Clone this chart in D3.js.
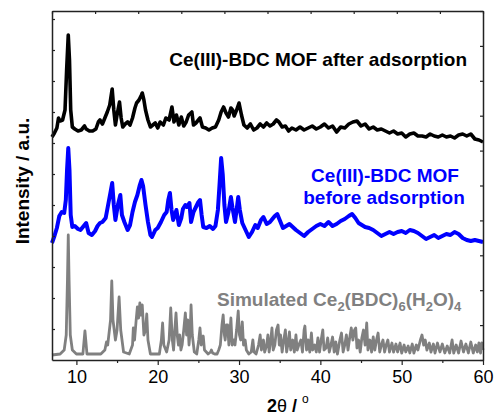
<!DOCTYPE html>
<html><head><meta charset="utf-8">
<script src="https://cdn.jsdelivr.net/npm/d3@7/dist/d3.min.js"></script>
<style>body{margin:0;background:#fff}svg{display:block}text{font-family:"Liberation Sans",Arial,sans-serif}</style>
</head><body><svg id="c" width="495" height="416"></svg>
<script>
// 2theta (degrees) and stacked intensity (a.u.) for each pattern
const afterX = [7.0,7.3,7.6,7.8,8.0,8.3,8.6,8.8,9.0,9.15,9.3,9.5,9.8,10.2,10.6,11.0,11.2,11.6,12.0,12.4,12.7,12.9,13.2,13.5,13.8,14.1,14.4,14.6,14.8,15.0,15.3,15.5,15.7,16.0,16.3,16.6,16.9,17.2,17.4,17.7,18.0,18.1,18.3,18.5,18.8,19.1,19.4,19.7,20.0,20.3,20.7,21.0,21.4,21.75,22.0,22.3,22.6,22.9,23.2,23.5,23.8,24.2,24.4,24.7,25.0,25.2,25.5,25.9,26.3,26.7,27.1,27.5,27.8,28.1,28.4,28.7,29.0,29.2,29.4,29.7,30.0,30.3,30.6,31.0,31.4,31.8,32.2,32.6,33.0,33.4,33.8,34.2,34.6,34.9,35.3,35.7,36.1,36.5,37.0,37.5,38.0,38.5,39.0,39.5,40.0,40.5,41.0,41.5,42.0,42.5,43.0,43.5,44.0,44.5,45.0,45.5,46.0,46.5,47.0,47.5,48.0,48.5,49.0,49.5,50.0,50.5,51.0,51.5,52.0,52.5,53.0,53.5,54.0,54.5,55.0,55.5,56.0,56.5,57.0,57.5,58.0,58.5,59.0,59.5,60.0];
const afterY = [223,227,232,242,239,240,250,290,325,300,250,233,231,229,230,234,231,229,229,231,238,240,236,242,248,255,271,250,235,245,258,242,233,236,238,235,242,252,257,260,265,267,260,250,240,233,235,237,232,238,235,242,240,253,238,245,235,243,234,238,245,248,235,237,240,242,233,232,230,232,233,240,248,253,247,243,252,250,244,250,257,245,235,232,236,230,232,236,233,237,234,236,240,238,233,234,229,232,230,233,230,232,234,231,233,236,232,234,228,233,232,236,238,239,234,236,231,233,230,231,229,227,229,226,227,223,226,227,224,224,223,226,224,223,225,223,224,222,225,226,224,226,221,220,218];

const beforeX = [7.0,7.3,7.6,7.9,8.2,8.5,8.7,8.85,9.0,9.15,9.3,9.5,9.8,10.2,10.5,10.9,11.2,11.5,11.9,12.3,12.6,12.9,13.2,13.6,13.9,14.2,14.4,14.6,14.8,15.1,15.4,15.6,15.9,16.3,16.6,16.9,17.2,17.5,17.8,18.0,18.2,18.5,18.8,19.1,19.3,19.7,20.0,20.4,20.8,21.1,21.3,21.5,21.7,21.9,22.1,22.3,22.6,22.9,23.1,23.4,23.6,23.9,24.1,24.4,24.7,25.0,25.2,25.4,25.6,26.0,26.4,26.8,27.1,27.4,27.6,27.8,28.0,28.2,28.4,28.7,29.0,29.2,29.5,29.7,29.9,30.1,30.4,30.8,31.2,31.6,32.0,32.3,32.7,33.0,33.4,33.8,34.1,34.4,34.7,35.0,35.4,35.8,36.2,36.6,37.0,37.5,38.0,38.5,39.0,39.5,40.0,40.5,41.0,41.5,42.0,42.5,43.0,43.5,43.9,44.3,44.7,45.1,45.5,46.0,46.5,47.0,47.5,48.0,48.5,49.0,49.5,50.0,50.5,51.0,51.5,52.0,52.5,53.0,53.5,54.0,54.5,55.0,55.5,56.0,56.5,57.0,57.5,58.0,58.5,59.0,59.5,60.0];
const beforeY = [117,124,132,144,148,147,160,190,212,190,145,133,134,131,130,134,137,127,125,129,134,137,138,142,155,168,177,155,140,155,165,145,138,130,135,148,158,165,175,180,174,155,138,125,123,130,132,138,145,148,160,167,150,140,145,150,135,142,151,155,153,157,138,148,153,158,160,145,133,132,134,131,134,150,175,202,185,155,138,148,163,152,138,150,163,150,137,130,123,128,135,132,140,143,136,138,141,144,146,140,132,134,136,133,130,127,124,128,131,134,136,134,138,134,136,139,141,144,146,142,137,135,133,132,130,127,124,126,128,126,128,129,127,130,129,127,124,121,123,125,122,124,126,125,128,126,122,120,119,120,119,118];

const simX = [7.0,8.0,8.5,8.75,8.9,9.0,9.1,9.25,9.5,10.0,10.8,10.95,11.05,11.15,11.3,13.0,13.5,13.7,13.85,14.2,14.35,14.5,14.8,15.0,15.25,15.45,15.8,16.5,16.9,17.0,17.15,17.35,17.5,17.65,17.8,17.95,18.1,18.3,18.5,18.65,18.8,19.1,20.2,20.45,20.6,20.75,21.1,21.4,21.6,21.8,21.95,22.1,22.25,22.4,22.55,22.7,22.85,23.0,23.2,23.4,23.55,23.7,23.85,24.0,24.1,24.25,24.5,24.8,25.05,25.2,25.35,25.5,25.6,25.75,26.2,26.5,26.6,26.75,27.0,27.3,27.5,27.7,27.9,28.05,28.2,28.3,28.45,28.6,28.75,28.9,29.0,29.15,29.35,29.5,29.7,29.9,30.05,30.2,30.4,30.55,30.75,30.9,31.2,31.5,31.7,31.85,32.1,32.4,32.6,32.75,33.0,33.15,33.4,33.55,33.7,33.9,34.05,34.2,34.4,34.6,34.8,34.95,35.1,35.3,35.5,35.7,35.85,36.0,36.2,36.35,36.6,36.8,37.0,37.15,37.35,37.6,37.8,38.0,38.1,38.3,38.5,38.7,38.9,39.05,39.3,39.5,39.7,39.9,40.1,40.3,40.45,40.7,40.9,41.1,41.3,41.5,41.7,41.9,42.1,42.4,42.6,42.8,43.0,43.2,43.4,43.6,43.8,44.0,44.2,44.35,44.5,44.7,44.9,45.1,45.3,45.5,45.7,45.85,46.1,46.3,46.5,46.7,46.9,47.1,47.3,47.5,47.7,47.9,48.1,48.3,48.5,48.8,49.0,49.3,49.5,49.8,50.0,50.3,50.5,50.8,51.0,51.3,51.5,51.8,52.0,52.3,52.5,52.7,52.9,53.1,53.4,53.6,53.9,54.1,54.4,54.7,55.0,55.3,55.6,55.9,56.2,56.4,56.7,57.0,57.3,57.6,57.9,58.2,58.5,58.8,59.1,59.3,59.5,59.7,59.85,60.0];
const simY = [5,6,10,25,80,125,80,25,10,6,6,20,29,20,6,6,10,18,15,40,79,40,20,30,63,30,8,6,15,32,20,40,53,42,57,45,55,25,30,46,20,6,6,20,37,15,8,20,52,20,10,30,47,25,15,25,10,15,30,47,25,40,15,30,55,25,8,6,20,32,15,20,24,10,6,8,10,7,6,6,10,15,35,45,25,20,35,35,15,30,42,15,20,15,30,49,25,20,38,15,20,10,6,8,20,8,6,15,25,10,20,8,15,25,8,20,32,10,15,30,35,15,25,8,20,30,8,15,28,10,20,8,25,10,15,20,8,30,34,10,20,8,27,10,15,8,22,8,20,30,10,12,22,8,15,23,8,18,6,20,27,8,15,25,10,22,32,20,30,32,12,20,8,22,30,15,37,10,20,8,23,10,20,27,8,15,20,8,15,20,8,17,8,16,8,17,7,15,8,14,7,16,7,15,10,20,25,15,20,10,17,8,16,7,17,8,16,7,14,7,20,7,15,7,19,8,16,7,18,7,15,8,17,7,17,10];

const xTicks = [10,20,30,40,50,60];
const xMinor = [15,25,35,45,55];

const W = 495, H = 416;
const m = {l:52, r:483, t:11, b:360};
const svg = d3.select("#c");

const x = d3.scaleLinear().domain([7,60]).range([m.l, m.r]);
const y = d3.scaleLinear().domain([0,349]).range([m.b, m.t]);
const yR = d3.scaleLinear().domain([0,10]).range([m.b, m.t]);
const xT = d3.scaleLinear().domain([0,10]).range([m.l, m.r]);

const series = [
  {xs: simX, ys: simY, color:"#808080", w:2.8},
  {xs: beforeX, ys: beforeY, color:"#0000ff", w:4},
  {xs: afterX, ys: afterY, color:"#000000", w:3.6}
];
const line = d3.line().x(d=>x(d[0])).y(d=>y(d[1]));
series.forEach(s=>{
  svg.append("path").datum(d3.zip(s.xs, s.ys))
    .attr("d", line).attr("fill","none").attr("stroke", s.color)
    .attr("stroke-width", s.w).attr("stroke-linejoin","round");
});

// axes
const axCol = "#222";
const gB = svg.append("g").attr("transform",`translate(0,${m.b})`)
  .call(d3.axisBottom(x).tickValues(xTicks).tickSize(5).tickSizeOuter(0).tickPadding(5).tickFormat(d3.format("d")));
svg.append("g").attr("transform",`translate(0,${m.b})`)
  .call(d3.axisBottom(x).tickValues(xMinor).tickSize(3).tickSizeOuter(0).tickFormat(""))
  .call(g=>g.select(".domain").remove());
const gL = svg.append("g").attr("transform",`translate(${m.l},0)`)
  .call(d3.axisLeft(y).tickValues(d3.range(31,349,31)).tickSize(-3).tickSizeOuter(0).tickFormat(""));
const gT = svg.append("g").attr("transform",`translate(0,${m.t})`)
  .call(d3.axisTop(xT).ticks(10).tickSize(-3).tickSizeOuter(0).tickFormat(""));
const gR = svg.append("g").attr("transform",`translate(${m.r},0)`)
  .call(d3.axisRight(yR).ticks(10).tickSize(-3).tickSizeOuter(0).tickFormat(""));
svg.selectAll(".domain").attr("stroke",axCol).attr("stroke-width",1.5);
svg.selectAll(".tick line").attr("stroke",axCol).attr("stroke-width",1.2);
gB.selectAll(".tick text").attr("font-size",18).attr("fill","#000")
  .style("font-family",'"Liberation Sans",Arial,sans-serif');

// axis titles
svg.append("text").attr("transform","translate(29,181) rotate(-90)")
  .attr("text-anchor","middle").attr("font-size",19).attr("font-weight","bold")
  .text("Intensity / a.u.");
const xl = svg.append("text").attr("x",267).attr("y",412).attr("font-size",18).attr("font-weight","bold");
xl.append("tspan").text("2");
xl.append("tspan").attr("font-weight","normal").text("θ");
xl.append("tspan").text(" / ");
xl.append("tspan").attr("font-weight","normal").attr("font-size",12).attr("dy",-9).text("o");

// annotations
svg.append("text").attr("x",467).attr("y",66).attr("text-anchor","end")
  .attr("font-size",19).attr("font-weight","bold").attr("fill","#000")
  .text("Ce(III)-BDC MOF after adsorption");
svg.append("text").attr("x",385).attr("y",182).attr("text-anchor","middle")
  .attr("font-size",19).attr("font-weight","bold").attr("fill","#0000ff")
  .text("Ce(III)-BDC MOF");
svg.append("text").attr("x",384).attr("y",204).attr("text-anchor","middle")
  .attr("font-size",19).attr("font-weight","bold").attr("fill","#0000ff")
  .text("before adsorption");
const st = svg.append("text").attr("x",217).attr("y",306)
  .attr("font-size",19).attr("font-weight","bold").attr("fill","#808080");
st.append("tspan").text("Simulated Ce");
st.append("tspan").attr("font-size",13).attr("dy",5).text("2");
st.append("tspan").attr("dy",-5).text("(BDC)");
st.append("tspan").attr("font-size",13).attr("dy",5).text("6");
st.append("tspan").attr("dy",-5).text("(H");
st.append("tspan").attr("font-size",13).attr("dy",5).text("2");
st.append("tspan").attr("dy",-5).text("O)");
st.append("tspan").attr("font-size",13).attr("dy",5).text("4");
</script></body></html>
